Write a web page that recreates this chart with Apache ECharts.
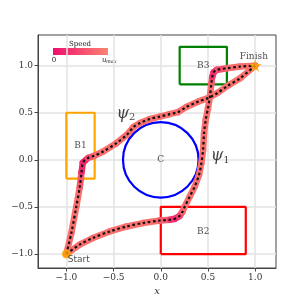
<!DOCTYPE html>
<html><head><meta charset="utf-8">
<script src="https://cdn.jsdelivr.net/npm/echarts@6/dist/echarts.min.js"></script>
<style>html,body{margin:0;padding:0;background:#fff}#c{width:307px;height:307px}</style>
</head><body><div id="c"></div>
<script>
// Trajectory psi1 (via B2, B3)
const psi1X = [-1, -0.86, -0.72, -0.54, -0.36, -0.19, -0.01, 0.10, 0.15, 0.20, 0.23, 0.254, 0.307, 0.36, 0.405, 0.43, 0.448, 0.458, 0.476, 0.50, 0.52, 0.536, 0.545, 0.56, 0.59, 0.70, 0.84, 1];
const psi1Y = [-1, -0.90, -0.83, -0.76, -0.707, -0.671, -0.644, -0.636, -0.625, -0.595, -0.55, -0.495, -0.389, -0.283, -0.159, -0.035, 0.106, 0.283, 0.424, 0.55, 0.671, 0.813, 0.88, 0.93, 0.954, 0.972, 0.99, 1];
const psi1Speed = [1, 1, 1, 1, 1, 1, 1, 0.6, 0.2, 0.4, 0.8, 1, 1, 1, 1, 1, 1, 1, 1, 1, 1, 1, 0.6, 0.15, 0.4, 0.9, 1, 1];
// Trajectory psi2 (via B1)
const psi2X = [-1, -0.947, -0.894, -0.857, -0.839, -0.825, -0.77, -0.70, -0.61, -0.47, -0.36, -0.29, -0.22, -0.12, -0.01, 0.095, 0.18, 0.27, 0.40, 0.50, 0.60, 0.70, 0.84, 1];
const psi2Y = [-1, -0.777, -0.495, -0.283, -0.13, -0.03, 0.02, 0.045, 0.088, 0.177, 0.265, 0.347, 0.39, 0.432, 0.459, 0.485, 0.506, 0.56, 0.62, 0.655, 0.71, 0.78, 0.866, 1];
const psi2Speed = [1, 1, 1, 1, 0.5, 0.1, 0.4, 0.9, 1, 1, 1, 1, 1, 1, 1, 1, 1, 1, 1, 1, 1, 1, 1, 1];
// Regions
const boxB1 = [[-1, -0.2], [-0.7, -0.2], [-0.7, 0.5], [-1, 0.5], [-1, -0.2]];
const boxB2 = [[0, -1], [0.9, -1], [0.9, -0.5], [0, -0.5], [0, -1]];
const boxB3 = [[0.2, 0.8], [0.7, 0.8], [0.7, 1.2], [0.2, 1.2], [0.2, 0.8]];
const circleC = [0, 0, 0.4];
const startPt = [-1, -1];
const finishPt = [1, 1];
const tickVals = [-1, -0.5, 0, 0.5, 1];
// Annotations
const labelNames = ['B1', 'B2', 'B3', 'C'];
const labelPos = [[-0.85, 0.15], [0.45, -0.76], [0.45, 1.0], [0, 0]];

const slowC = [238, 15, 110], fastC = [250, 112, 110];
function speedColor(s) {
  const c = slowC.map((v, i) => Math.round(v + (fastC[i] - v) * s));
  return 'rgb(' + c.join(',') + ')';
}
function segments(xs, ys, sp) {
  const out = [];
  for (let i = 0; i < xs.length - 1; i++) out.push([xs[i], ys[i], xs[i + 1], ys[i + 1], (sp[i] + sp[i + 1]) / 2]);
  return out;
}
function pts(xs, ys) { return xs.map((x, i) => [x, ys[i]]); }
const fmt = v => (v < 0 ? '\u2212' : '') + Math.abs(v).toFixed(1);
const FONT = 'DejaVu Serif';

const segRender = (params, api) => {
  const p1 = api.coord([api.value(0), api.value(1)]);
  const p2 = api.coord([api.value(2), api.value(3)]);
  return { type: 'line', shape: { x1: p1[0], y1: p1[1], x2: p2[0], y2: p2[1] },
    style: { stroke: speedColor(api.value(4)), lineWidth: 6.5, lineCap: 'round' } };
};
const boxSeries = (d, color) => ({ type: 'line', data: d, symbol: 'none', lineStyle: { color, width: 2.2 }, z: 3, silent: true, animation: false });

const chart = echarts.init(document.getElementById('c'), null, { renderer: 'canvas' });
chart.setOption({
  animation: false,
  grid: { left: 38, right: 31, top: 35, bottom: 39, outerBoundsMode: 'none', containLabel: false, show: true, borderColor: '#444', borderWidth: 1, backgroundColor: 'transparent' },
  xAxis: { type: 'value', min: -1.3, max: 1.22, name: 'x', nameLocation: 'middle', nameGap: 18,
    nameTextStyle: { fontFamily: FONT, fontStyle: 'italic', fontSize: 10, color: '#333' },
    axisLine: { show: true, onZero: false, lineStyle: { color: '#444', width: 1 } },
    axisTick: { show: true, length: 3.5, lineStyle: { color: '#444' }, customValues: tickVals },
    axisLabel: { customValues: tickVals, formatter: fmt, fontFamily: FONT, fontSize: 9, color: '#333', margin: 5 },
    splitLine: { show: false } },
  yAxis: { type: 'value', min: -1.148, max: 1.325, name: 'y', nameLocation: 'middle', nameGap: 28, nameRotate: 90,
    nameTextStyle: { fontFamily: FONT, fontStyle: 'italic', fontSize: 10, color: '#333' },
    axisLine: { show: true, onZero: false, lineStyle: { color: '#444', width: 1 } },
    axisTick: { show: true, length: 3.5, lineStyle: { color: '#444' }, customValues: tickVals },
    axisLabel: { customValues: tickVals, formatter: fmt, fontFamily: FONT, fontSize: 9, color: '#333', margin: 5 },
    splitLine: { show: false } },
  series: [
    { type: 'line', data: [], silent: true, z: 0,
      markLine: { z: 0, silent: true, symbol: ['none', 'none'], label: { show: false },
        lineStyle: { color: '#e3e3e3', width: 1.5, type: 'solid' },
        data: tickVals.map(v => ({ xAxis: v })).concat(tickVals.map(v => ({ yAxis: v }))) } },
    boxSeries(boxB1, '#ffa500'),
    boxSeries(boxB2, '#ff0000'),
    boxSeries(boxB3, '#008000'),
    { type: 'custom', z: 3, silent: true, data: [circleC],
      renderItem: (params, api) => {
        const c = api.coord([api.value(0), api.value(1)]);
        const r = api.size([api.value(2), api.value(2)]);
        return { type: 'circle', shape: { cx: c[0], cy: c[1], r: r[0] }, style: { fill: 'none', stroke: '#0000ff', lineWidth: 2.2 } };
      } },
    { type: 'custom', z: 4, silent: true, data: segments(psi1X, psi1Y, psi1Speed), encode: { x: [0, 2], y: [1, 3] }, renderItem: segRender },
    { type: 'custom', z: 4, silent: true, data: segments(psi2X, psi2Y, psi2Speed), encode: { x: [0, 2], y: [1, 3] }, renderItem: segRender },
    { type: 'line', z: 5, data: pts(psi1X, psi1Y), symbol: 'none', smooth: 0.3, lineStyle: { color: '#111', width: 2.2, type: [2.6, 2.6] }, silent: true },
    { type: 'line', z: 5, data: pts(psi2X, psi2Y), symbol: 'none', smooth: 0.3, lineStyle: { color: '#111', width: 2.2, type: [2.6, 2.6] }, silent: true },
    { type: 'scatter', z: 6, data: [startPt], symbol: 'circle', symbolSize: 9, itemStyle: { color: '#ffa500' },
      label: { show: true, formatter: 'Start', position: [6, 6], fontFamily: 'DejaVu Sans', fontSize: 9, color: '#222' } },
    { type: 'scatter', z: 6, data: [finishPt], symbol: 'path://M50,0 L61,35 L98,35 L68,57 L79,91 L50,70 L21,91 L32,57 L2,35 L39,35 Z', symbolSize: 13, itemStyle: { color: '#ffa500' },
      label: { show: true, formatter: 'Finish', position: [-9, -7], fontFamily: FONT, fontSize: 9, color: '#222' } },
    { type: 'scatter', z: 7, data: labelPos.map((p, i) => ({ value: p, name: labelNames[i] })), symbolSize: 0, silent: true,
      label: { show: true, position: 'inside', formatter: p => p.name, fontFamily: FONT, fontSize: 9, color: '#222' } },
    { type: 'scatter', z: 7, data: [{ value: [0.63, 0.04], name: '\u03c8' }, { value: [-0.37, 0.49], name: '\u03c8' }], symbolSize: 0, silent: true,
      label: { show: true, position: 'inside', formatter: (p) => '{a|\u03c8}{b|' + (p.dataIndex === 0 ? '1' : '2') + '}',
        rich: { a: { fontFamily: FONT, fontStyle: 'italic', fontSize: 16, color: '#111' }, b: { fontFamily: FONT, fontSize: 10, color: '#111', padding: [8, 0, 0, 0] } } } }
  ],
  graphic: [
    { type: 'rect', shape: { x: 53, y: 48, width: 55, height: 7 },
      style: { fill: new echarts.graphic.LinearGradient(0, 0, 1, 0, [{ offset: 0, color: '#ee0f6e' }, { offset: 1, color: '#fb8572' }]) } },
    { type: 'text', x: 80, y: 44, style: { text: 'Speed', fontFamily: FONT, fontSize: 7, fill: '#222', align: 'center', verticalAlign: 'middle' } },
    { type: 'text', x: 54, y: 60, style: { text: '0', fontFamily: FONT, fontSize: 7, fill: '#222', align: 'center', verticalAlign: 'middle' } },
    { type: 'text', x: 102, y: 60, style: { text: 'u', fontFamily: FONT, fontStyle: 'italic', fontSize: 7, fill: '#222', align: 'left', verticalAlign: 'middle' } },
    { type: 'text', x: 106, y: 61.5, style: { text: 'max', fontFamily: FONT, fontStyle: 'italic', fontSize: 5, fill: '#222', align: 'left', verticalAlign: 'middle' } }
  ]
});
</script></body></html>
